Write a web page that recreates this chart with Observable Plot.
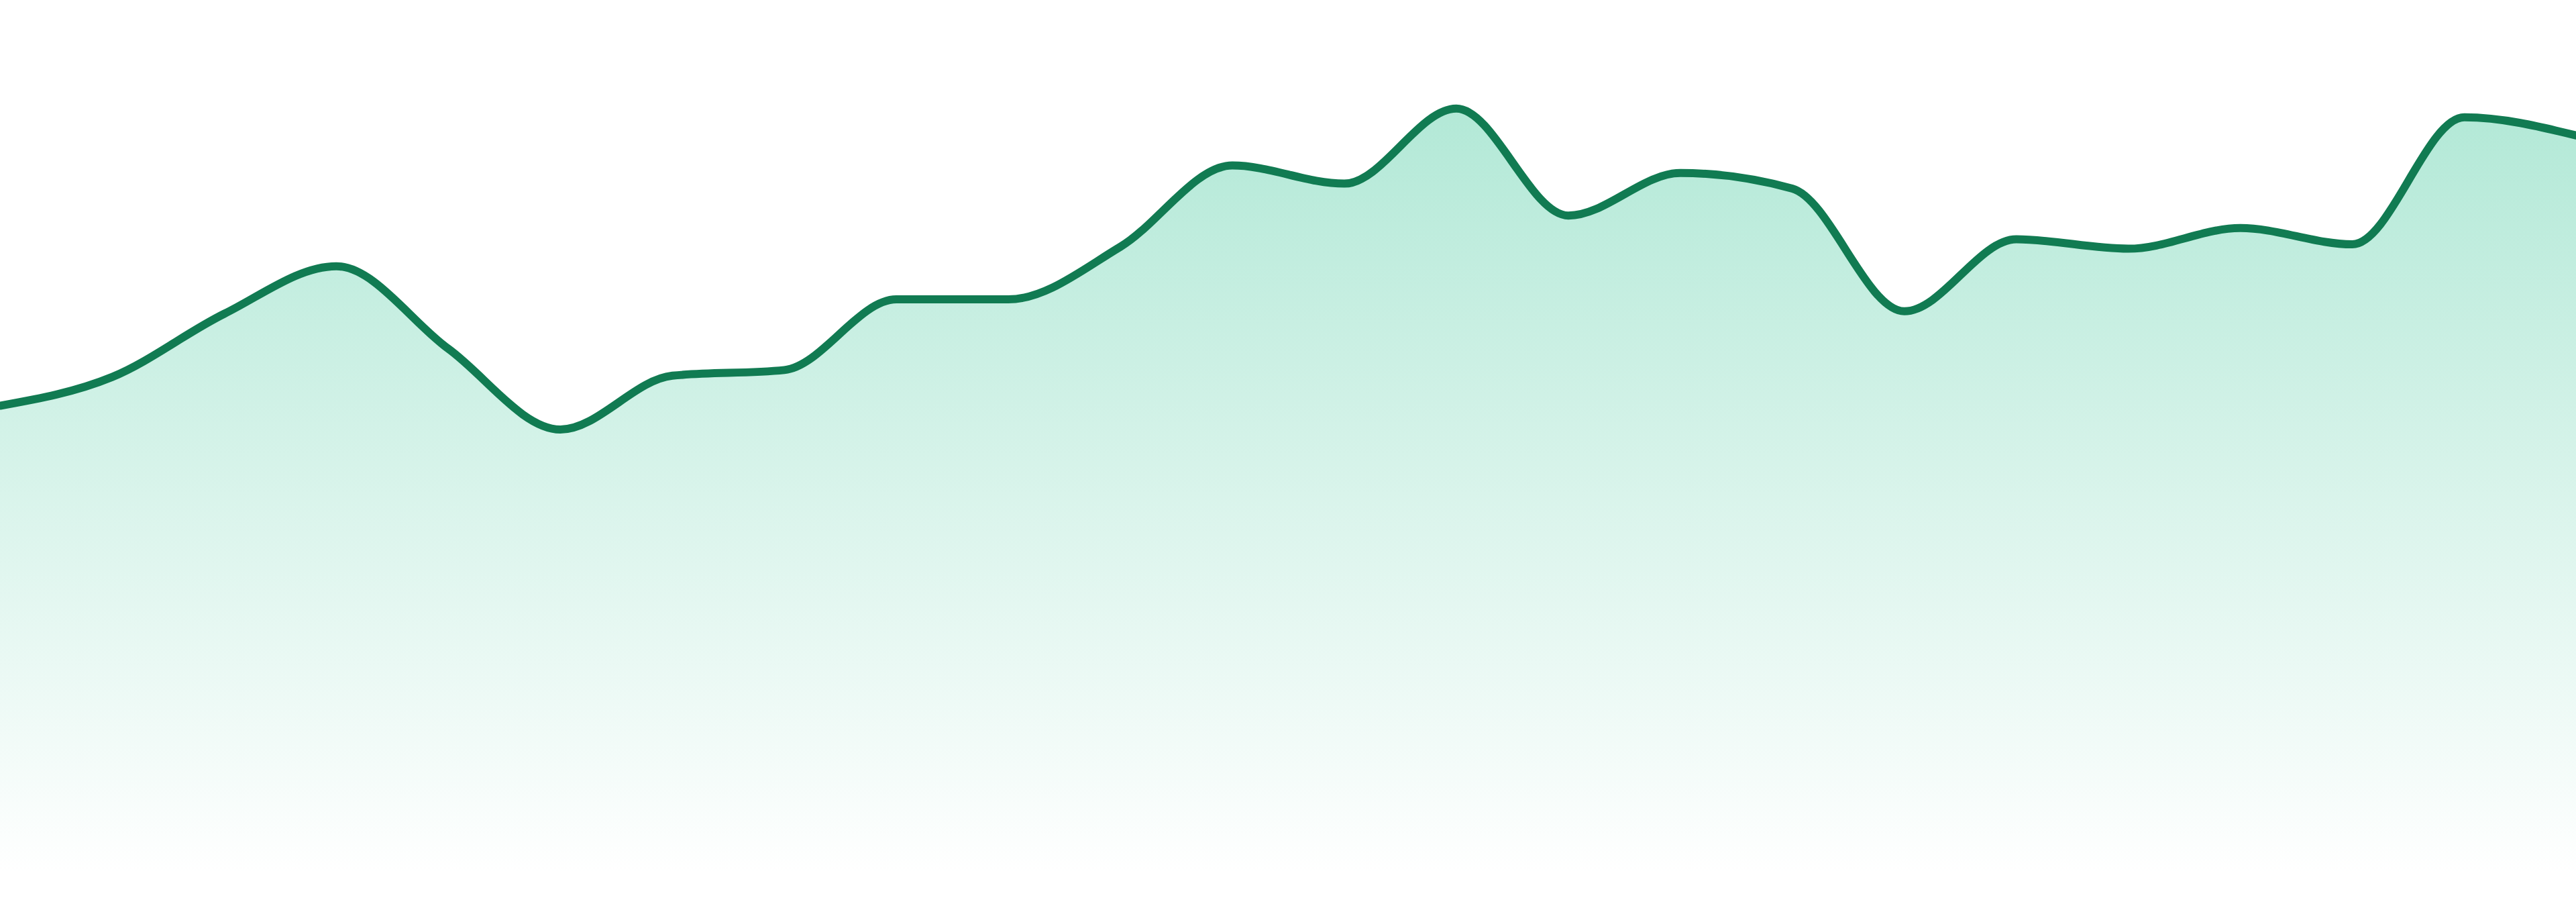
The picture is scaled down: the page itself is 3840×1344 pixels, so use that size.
<!DOCTYPE html>
<html>
<head>
<meta charset="utf-8">
<script src="https://cdn.jsdelivr.net/npm/d3@7"></script>
<script src="https://cdn.jsdelivr.net/npm/@observablehq/plot@0.6"></script>
<style>
  html, body { margin: 0; padding: 0; background: #ffffff; }
  #chart svg { display: block; }
</style>
</head>
<body>
<div id="chart"></div>
<script>
const periods = [1, 2, 3, 4, 5, 6, 7, 8, 9, 10, 11, 12, 13, 14, 15, 16, 17, 18, 19, 20, 21, 22, 23, 24];
const values = [75.2, 79.8, 89.9, 97.5, 84.3, 71.4, 80.0, 80.9, 92.2, 92.2, 100.6, 113.6,
                110.7, 122.7, 105.6, 112.4, 109.9, 90.3, 101.8, 100.3, 103.6, 101.0, 121.3, 118.4];
const yMax = 140;

const data = periods.map((p, i) => ({period: p, value: values[i]}));

const W = 3840, H = 1344;
const chart = Plot.plot({
  width: W,
  height: H,
  marginTop: 0,
  marginRight: 0,
  marginBottom: 39,
  marginLeft: 0,
  x: {domain: [periods[0], periods[periods.length - 1]], axis: null},
  y: {domain: [0, yMax], axis: null},
  marks: [
    Plot.areaY(data, {x: "period", y: "value", curve: "monotone-x", fill: "url(#areaGrad)"}),
    Plot.lineY(data, {x: "period", y: "value", curve: "monotone-x", stroke: "#117b52", strokeWidth: 12, strokeLinejoin: "round", strokeLinecap: "round"})
  ]
});

const ns = "http://www.w3.org/2000/svg";
const defs = document.createElementNS(ns, "defs");
const grad = document.createElementNS(ns, "linearGradient");
grad.setAttribute("id", "areaGrad");
grad.setAttribute("x1", "0"); grad.setAttribute("y1", "0");
grad.setAttribute("x2", "0"); grad.setAttribute("y2", "1");
[["0%", "#10b981", 0.32], ["100%", "#10b981", 0.0]].forEach(([o, c, a]) => {
  const s = document.createElementNS(ns, "stop");
  s.setAttribute("offset", o);
  s.setAttribute("stop-color", c);
  s.setAttribute("stop-opacity", a);
  grad.appendChild(s);
});
defs.appendChild(grad);
chart.insertBefore(defs, chart.firstChild);
document.getElementById("chart").appendChild(chart);
</script>
</body>
</html>
